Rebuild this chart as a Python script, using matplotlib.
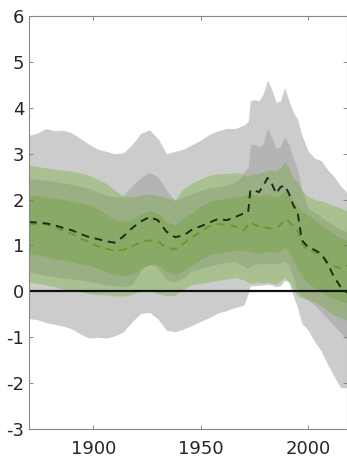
import numpy as np
import matplotlib
matplotlib.use("Agg")
import matplotlib.pyplot as plt

years = [1870, 1874, 1878, 1882, 1886, 1890, 1894, 1898, 1902, 1906,
         1910, 1914, 1918, 1922, 1926, 1930, 1934, 1938, 1942, 1946,
         1950, 1954, 1958, 1962, 1966, 1970, 1972, 1973, 1975, 1977,
         1979, 1981, 1983, 1985, 1987, 1989, 1991, 1993, 1995, 1997,
         2000, 2003, 2006, 2009, 2012, 2015, 2018]

# grey envelope, outer and inner range
grey_outer_hi = [3.40, 3.45, 3.55, 3.50, 3.51, 3.45, 3.33, 3.20, 3.10, 3.05,
                 3.00, 3.02, 3.20, 3.44, 3.52, 3.33, 3.00, 3.05, 3.10, 3.20,
                 3.30, 3.42, 3.50, 3.55, 3.55, 3.62, 3.70, 4.15, 4.18, 4.15,
                 4.30, 4.60, 4.40, 4.12, 4.15, 4.44, 4.15, 3.90, 3.75, 3.40,
                 3.05, 2.90, 2.85, 2.65, 2.50, 2.30, 2.15]
grey_outer_lo = [-0.59, -0.62, -0.68, -0.72, -0.76, -0.82, -0.93, -1.02, -1.00, -1.02,
                 -0.97, -0.88, -0.66, -0.48, -0.46, -0.60, -0.85, -0.88, -0.82, -0.74,
                 -0.65, -0.57, -0.47, -0.42, -0.35, -0.30, -0.05, 0.12, 0.13, 0.13,
                 0.14, 0.15, 0.14, 0.10, 0.12, 0.24, 0.20, -0.10, -0.35, -0.70,
                 -0.85, -1.10, -1.30, -1.60, -1.85, -2.10, -2.10]
grey_inner_hi = [2.46, 2.44, 2.42, 2.39, 2.36, 2.33, 2.29, 2.24, 2.16, 2.10,
                 2.06, 2.10, 2.30, 2.48, 2.59, 2.50, 2.20, 1.98, 2.06, 2.14,
                 2.20, 2.26, 2.28, 2.31, 2.38, 2.60, 2.70, 3.20, 3.20, 3.15,
                 3.22, 3.55, 3.35, 3.12, 3.15, 3.38, 3.20, 2.90, 2.65, 2.20,
                 1.80, 1.72, 1.62, 1.52, 1.43, 1.35, 1.30]
grey_inner_lo = [0.42, 0.38, 0.35, 0.32, 0.29, 0.27, 0.25, 0.22, 0.18, 0.14,
                 0.12, 0.10, 0.15, 0.45, 0.65, 0.50, 0.25, 0.20, 0.30, 0.45,
                 0.50, 0.55, 0.60, 0.63, 0.65, 0.55, 0.50, 0.55, 0.60, 0.60,
                 0.60, 0.62, 0.60, 0.60, 0.62, 0.65, 0.55, 0.30, 0.00, -0.10,
                 -0.20, -0.30, -0.45, -0.60, -0.75, -0.90, -1.05]

# green envelope, outer and inner range
green_outer_hi = [2.75, 2.72, 2.69, 2.66, 2.64, 2.62, 2.58, 2.53, 2.44, 2.35,
                  2.20, 2.07, 2.06, 2.10, 2.12, 2.09, 2.04, 2.00, 2.25, 2.36,
                  2.45, 2.53, 2.56, 2.57, 2.59, 2.55, 2.52, 2.55, 2.56, 2.56,
                  2.60, 2.64, 2.64, 2.62, 2.70, 2.82, 2.70, 2.45, 2.38, 2.20,
                  2.06, 2.00, 1.97, 1.92, 1.87, 1.82, 1.76]
green_outer_lo = [0.20, 0.17, 0.14, 0.10, 0.05, 0.02, -0.01, -0.05, -0.07, -0.08,
                  -0.10, -0.10, -0.06, 0.02, 0.02, -0.05, -0.10, -0.08, 0.05, 0.15,
                  0.18, 0.20, 0.24, 0.27, 0.30, 0.25, 0.20, 0.18, 0.18, 0.20,
                  0.18, 0.20, 0.17, 0.16, 0.22, 0.30, 0.20, 0.05, -0.10, -0.15,
                  -0.18, -0.24, -0.32, -0.42, -0.52, -0.58, -0.63]
green_inner_hi = [2.09, 2.08, 2.06, 2.03, 2.00, 1.96, 1.92, 1.88, 1.80, 1.68,
                  1.55, 1.52, 1.56, 1.68, 1.76, 1.70, 1.52, 1.44, 1.60, 1.72,
                  1.85, 1.96, 2.00, 2.03, 2.06, 2.08, 2.12, 2.13, 2.10, 2.07,
                  2.10, 2.12, 2.08, 2.06, 2.10, 2.20, 2.10, 1.95, 1.84, 1.74,
                  1.66, 1.55, 1.45, 1.35, 1.25, 1.16, 1.11]
green_inner_lo = [0.82, 0.80, 0.76, 0.72, 0.69, 0.65, 0.60, 0.57, 0.50, 0.43,
                  0.37, 0.35, 0.37, 0.50, 0.58, 0.58, 0.44, 0.36, 0.45, 0.58,
                  0.70, 0.80, 0.84, 0.87, 0.89, 0.89, 0.87, 0.86, 0.84, 0.82,
                  0.85, 0.88, 0.86, 0.84, 0.88, 0.96, 0.86, 0.70, 0.50, 0.35,
                  0.17, 0.08, 0.00, -0.10, -0.16, -0.21, -0.25]

# the two dashed curves
black_line = [1.51, 1.50, 1.48, 1.44, 1.38, 1.33, 1.25, 1.18, 1.14, 1.09,
              1.06, 1.20, 1.38, 1.52, 1.62, 1.55, 1.30, 1.18, 1.22, 1.35,
              1.42, 1.50, 1.58, 1.55, 1.62, 1.70, 1.72, 2.20, 2.20, 2.16,
              2.30, 2.47, 2.35, 2.13, 2.27, 2.31, 2.13, 1.88, 1.72, 1.11,
              0.96, 0.90, 0.82, 0.60, 0.31, 0.10, -0.03]
green_line = [1.47, 1.47, 1.46, 1.40, 1.32, 1.25, 1.15, 1.07, 0.98, 0.93,
              0.89, 0.90, 0.98, 1.08, 1.11, 1.09, 0.95, 0.92, 1.05, 1.18,
              1.30, 1.42, 1.47, 1.45, 1.42, 1.33, 1.45, 1.51, 1.45, 1.42,
              1.40, 1.38, 1.37, 1.38, 1.44, 1.58, 1.52, 1.42, 1.33, 1.04,
              0.89, 0.85, 0.80, 0.64, 0.55, 0.50, 0.57]

plt.rcParams['font.family'] = ['DejaVu Sans']
plt.rcParams['axes.unicode_minus'] = False

x = np.array(years)
fig = plt.figure(figsize=(3.47, 4.63), dpi=100)
ax = fig.add_axes([0.0836, 0.0734, 0.9164, 0.892])

ax.fill_between(x, grey_outer_lo, grey_outer_hi, color='#cccccc', lw=0)
ax.fill_between(x, grey_inner_lo, grey_inner_hi, color='#b4b4b4', lw=0)
ax.fill_between(x, green_outer_lo, green_outer_hi, color='#a9c190', lw=0)
# green range laid over the darker grey range
lo = np.maximum(green_outer_lo, grey_inner_lo)
hi = np.minimum(green_outer_hi, grey_inner_hi)
ax.fill_between(x, lo, hi, where=hi > lo, interpolate=True, color='#9aaf84', lw=0)
ax.fill_between(x, green_inner_lo, green_inner_hi, color='#89a966', lw=0)

ax.axhline(0, color='#111111', lw=1.6)
ax.plot(x, green_line, color='#5f9e2e', lw=1.4, dashes=(4, 3))
ax.plot(x, black_line, color='#1e2a18', lw=1.4, dashes=(4, 3))

ax.set_xlim(1870, 2018)
ax.set_ylim(-3, 6)
ax.set_xticks([1900, 1950, 2000])
ax.set_yticks(range(-3, 7))
ax.tick_params(direction='in', length=3, width=0.6, color='#777777',
               labelcolor='#262626', labelsize=13, top=True, right=True)
ax.tick_params(axis='x', pad=8)
for sp in ax.spines.values():
    sp.set_color('#888888')
    sp.set_linewidth(0.8)

fig.savefig('out.png', dpi=100)
